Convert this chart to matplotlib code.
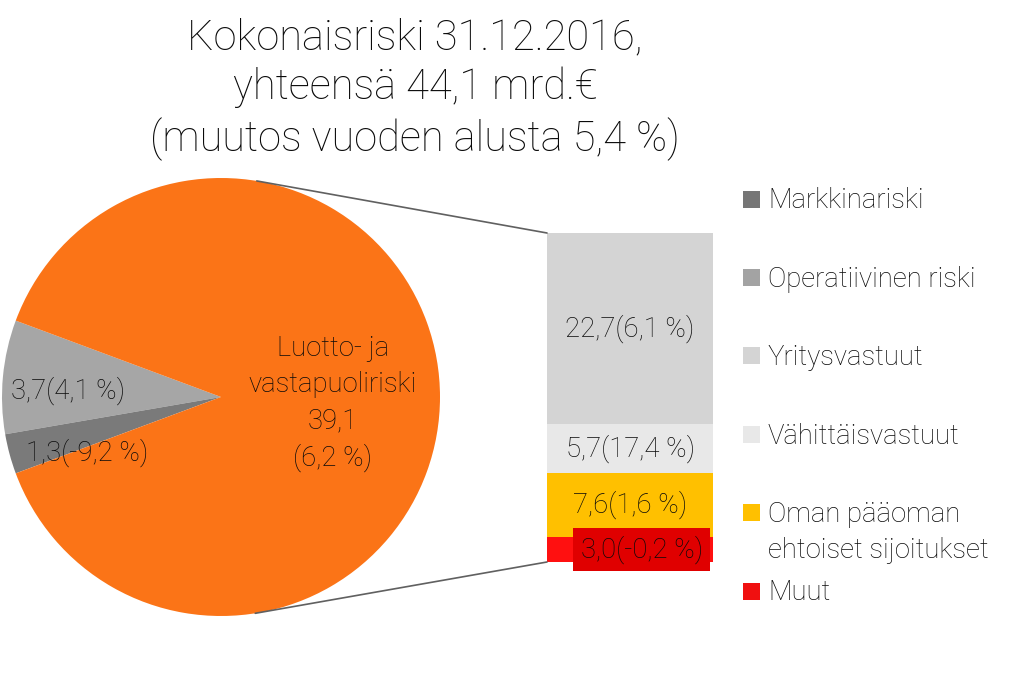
import numpy as np
import matplotlib
matplotlib.use('Agg')
import matplotlib.pyplot as plt
from matplotlib.patches import ConnectionPatch, Rectangle

plt.rcParams['font.family'] = ['Roboto', 'DejaVu Sans']
plt.rcParams['font.weight'] = 'light'

# pie: whole risk split
pie_names = ['Operatiivinen riski', 'Markkinariski', 'Luotto- ja\nvastapuoliriski']
pie_values = [3.7, 1.3, 39.1]
pie_changes = [4.1, -9.2, 6.2]
pie_colors = ['#A6A6A6', '#7A7A7A', '#FB7417']

# bar: credit risk split (bottom to top)
bar_names = ['Muut', 'Oman pääoman\nehtoiset sijoitukset', 'Vähittäisvastuut', 'Yritysvastuut']
bar_values = [3.0, 7.6, 5.7, 22.7]
bar_changes = [-0.2, 1.6, 17.4, 6.1]
bar_colors = ['#FF1010', '#FFC000', '#E8E8E8', '#D4D4D4']

legend_names = ['Markkinariski', 'Operatiivinen riski', 'Yritysvastuut',
                'Vähittäisvastuut', 'Oman pääoman\nehtoiset sijoitukset', 'Muut']
legend_colors = ['#767676', '#A3A3A3', '#D4D4D4', '#E8E8E8', '#FFC000', '#F01010']

title = 'Kokonaisriski 31.12.2016,\nyhteensä 44,1 mrd.€\n(muutos vuoden alusta 5,4 %)'


def fmt(v):
    return ('%.1f' % v).replace('.', ',')


W, H = 1016, 678
fig = plt.figure(figsize=(W / 100, H / 100), dpi=100)


def box(x0, y0, x1, y1):
    # pixel box (from top-left) -> figure fraction rect
    return [x0 / W, 1 - y1 / H, (x1 - x0) / W, (y1 - y0) / H]


txt = '#0A0A0A'
fs = 19.8

# --- pie ---
ax_pie = fig.add_axes(box(2, 178, 440, 616))
total = sum(pie_values)
start = 180 - 360 * (pie_values[0] + pie_values[1]) / total / 2
wedges, _ = ax_pie.pie(pie_values, colors=pie_colors, startangle=start,
                       counterclock=True, radius=1, wedgeprops=dict(linewidth=0))
ax_pie.set_xlim(-1, 1)
ax_pie.set_ylim(-1, 1)
ax_pie.set_aspect('equal')
ax_pie.axis('off')

ax_pie.text(-0.70, 0.03, fmt(pie_values[0]) + '(' + fmt(pie_changes[0]) + ' %)',
            ha='center', va='center', fontsize=fs, color=txt)
ax_pie.text(-0.61, -0.255, fmt(pie_values[1]) + '(' + fmt(pie_changes[1]) + ' %)',
            ha='center', va='center', fontsize=fs, color=txt)
ax_pie.text(0.51, -0.03, pie_names[2] + '\n' + fmt(pie_values[2]) + '\n(' + fmt(pie_changes[2]) + ' %)',
            ha='center', va='center', fontsize=fs, color=txt, linespacing=1.42)

# --- stacked bar ---
ax_bar = fig.add_axes(box(547, 233, 713, 562))
bottom = 0
for v, c, ch in zip(bar_values, bar_colors, bar_changes):
    ax_bar.bar(0, v, width=1, bottom=bottom, color=c, linewidth=0)
    label = fmt(v) + '(' + fmt(ch) + ' %)'
    if c == '#FF1010':
        ax_bar.text(0.07, bottom + v / 2, label, ha='center', va='center', fontsize=fs,
                    color=txt, bbox=dict(boxstyle='square,pad=0.27', fc='#E00000', ec='none'))
    else:
        ax_bar.text(0, bottom + v / 2, label, ha='center', va='center', fontsize=fs, color=txt)
    bottom += v
ax_bar.set_xlim(-0.5, 0.5)
ax_bar.set_ylim(0, sum(bar_values))
ax_bar.axis('off')

# --- connector lines ---
for ang, yb in [(80.6, sum(bar_values)), (-81.0, 0)]:
    a = np.deg2rad(ang)
    con = ConnectionPatch(xyA=(-0.5, yb), coordsA=ax_bar.transData,
                          xyB=(np.cos(a), np.sin(a)), coordsB=ax_pie.transData,
                          color='#606060', linewidth=1.2)
    fig.add_artist(con)

# --- legend ---
for i, (name, c) in enumerate(zip(legend_names, legend_colors)):
    yc = 199 + i * 78.4
    fig.add_artist(Rectangle((743 / W, 1 - (yc + 8.5) / H), 17 / W, 17 / H,
                             transform=fig.transFigure, fc=c, ec='none'))
    for j, line in enumerate(name.split('\n')):
        fig.text(768 / W, 1 - (yc + 9.5 + 36 * j) / H, line, ha='left', va='baseline',
                 fontsize=fs, color=txt)

# --- title ---
fig.text(415 / W, 1 - 89 / H, title, ha='center', va='center', fontsize=30,
         color=txt, linespacing=1.26)

fig.savefig('out.png', dpi=100)
